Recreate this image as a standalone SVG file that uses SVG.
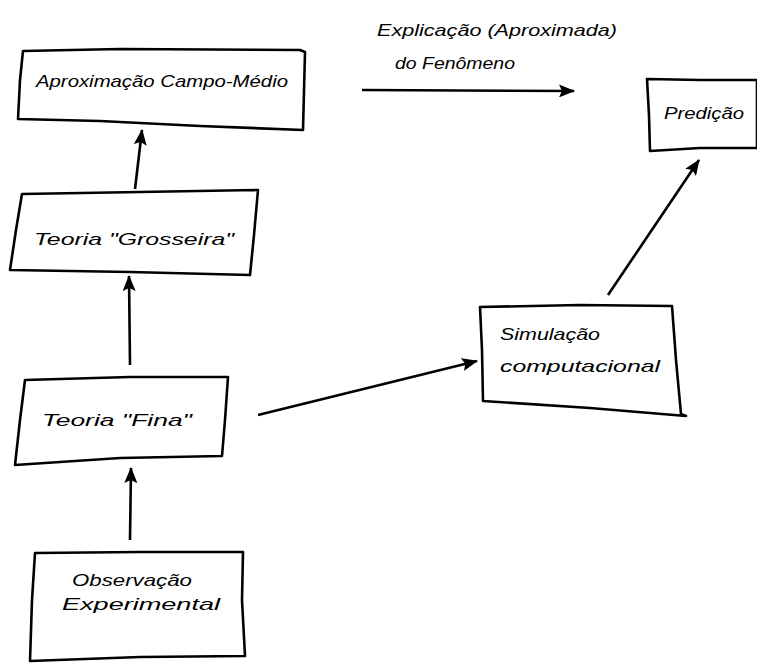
<svg xmlns="http://www.w3.org/2000/svg" width="757" height="666" viewBox="0 0 757 666">
<defs>
<style>
.box{fill:#fff;stroke:#000;stroke-width:2.6;stroke-linejoin:round}
.t{font-family:"Liberation Sans","DejaVu Sans",sans-serif;font-style:italic;font-size:17px;fill:#000}
.c{stroke:#000;stroke-width:2.6;fill:none}
</style>
<marker id="ah" viewBox="0 0 16 13" refX="15" refY="6.5" markerWidth="16" markerHeight="13" markerUnits="userSpaceOnUse" orient="auto">
<path d="M0,0 L16,6.5 L0,13 L3,6.5 Z" fill="#000"/>
</marker>
</defs>
<rect width="757" height="666" fill="#fff"/>
<g id="connectors">
<line class="c" x1="135" y1="189" x2="142" y2="130" marker-end="url(#ah)"/>
<line class="c" x1="130" y1="365" x2="129" y2="276" marker-end="url(#ah)"/>
<line class="c" x1="130" y1="540" x2="131" y2="468" marker-end="url(#ah)"/>
<line class="c" x1="258" y1="415" x2="477" y2="361" marker-end="url(#ah)"/>
<line class="c" x1="608" y1="295" x2="699" y2="160" marker-end="url(#ah)"/>
<line class="c" x1="362" y1="90" x2="574" y2="91" marker-end="url(#ah)"/>
</g>
<g id="n-aprox">
<path class="box" d="M23,51 L120,49 L300,50 L305,52 L303,130 L200,126 L100,121 L18,119 L20,80 Z"/>
<text class="t" x="36" y="87" textLength="252" lengthAdjust="spacingAndGlyphs">Aproximação Campo-Médio</text>
</g>
<g id="n-grosseira">
<path class="box" d="M22,194 L140,192 L258,190 L254,235 L250,275 L130,272 L10,270 L16,230 Z"/>
<text class="t" x="34" y="245" textLength="200" lengthAdjust="spacingAndGlyphs">Teoria "Grosseira"</text>
</g>
<g id="n-fina">
<path class="box" d="M25,380 L130,377 L228,377 L225,420 L222,456 L120,458 L15,465 L20,420 Z"/>
<text class="t" x="42" y="426" textLength="150" lengthAdjust="spacingAndGlyphs">Teoria "Fina"</text>
</g>
<g id="n-obs">
<path class="box" d="M35,553 L140,552 L243,552 L242,600 L245,656 L140,657 L30,661 L32,600 Z"/>
<text class="t" x="72" y="586" textLength="120" lengthAdjust="spacingAndGlyphs">Observação</text>
<text class="t" x="62" y="610" textLength="158" lengthAdjust="spacingAndGlyphs">Experimental</text>
</g>
<g id="n-sim">
<path class="box" d="M480,307 L580,305 L672,306 L676,360 L681,414 L686,416 L590,408 L483,401 L482,350 Z"/>
<text class="t" x="500" y="340" textLength="100" lengthAdjust="spacingAndGlyphs">Simulação</text>
<text class="t" x="500" y="372" textLength="160" lengthAdjust="spacingAndGlyphs">computacional</text>
</g>
<g id="n-pred">
<path class="box" d="M647,79 L700,80 L757,80 L757,148 L700,148 L650,151 L649,115 Z"/>
<text class="t" x="664" y="119" textLength="80" lengthAdjust="spacingAndGlyphs">Predição</text>
</g>
<g id="label">
<text class="t" x="377" y="36" textLength="240" lengthAdjust="spacingAndGlyphs">Explicação (Aproximada)</text>
<text class="t" x="395" y="69" textLength="120" lengthAdjust="spacingAndGlyphs">do Fenômeno</text>
</g>
</svg>
